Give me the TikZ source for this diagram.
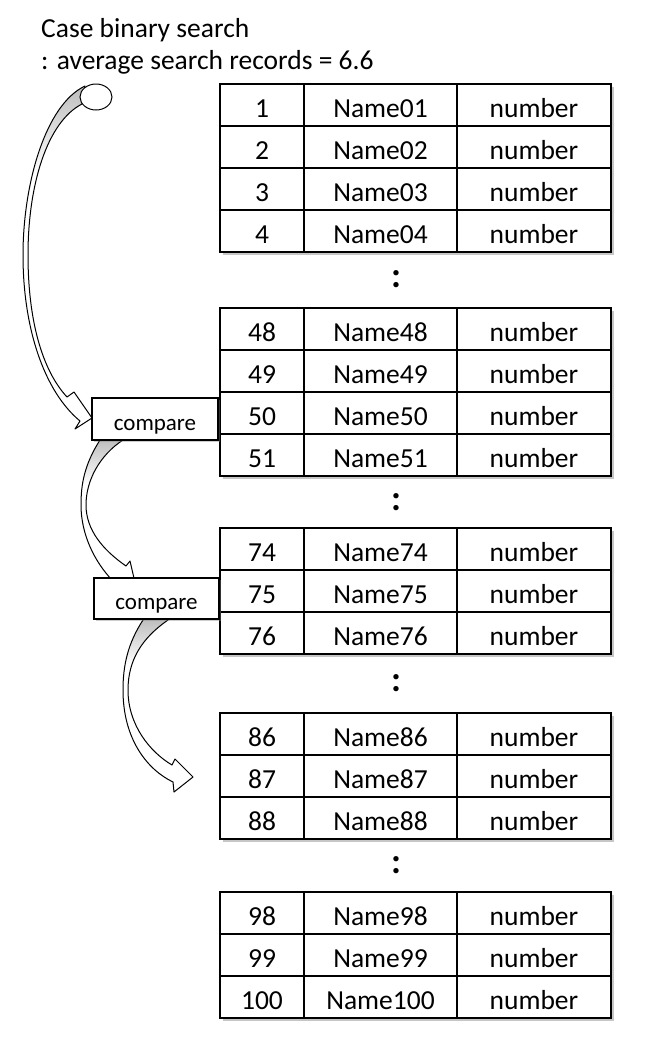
\documentclass[tikz,border=0pt]{standalone}
\usepackage{fontspec}
\setmainfont{Carlito}
\usetikzlibrary{shapes.geometric,shadows}
\newcommand\rowgroup[3]{%
  \fill[gray!45] (222.5,#1+2.5) rectangle (613.5,#2+2.5);
  \foreach \k/\nm [count=\i from 0] in {#3} {
    \node[colA] (n\k) at (262,{#1+21+42*\i}) {\k};
    \node[colB] (m\k) at (380.5,{#1+21+42*\i}) {\nm};
    \node[colC] (v\k) at (534,{#1+21+42*\i}) {number};
  }}
\def\bandone{(85,86) .. controls (45,105) and (23,185) .. (23,255) .. controls (23,330) and (45,392) .. (80,421) -- (75,429) -- (92,418) -- (74,392) -- (67,397) .. controls (42,370) and (28,320) .. (28,255) .. controls (28,185) and (47,122) .. (82,104) -- cycle}
\def\bandtwo{(100,436) -- (100,440) .. controls (84,465) and (81,485) .. (81,505) .. controls (81,535) and (95,562) .. (112,580) -- (108,584) -- (137,591) -- (130,561) -- (126,566) .. controls (103,550) and (86,530) .. (86,505) .. controls (86,480) and (100,455) .. (123,440) -- (123,436) -- cycle}
\def\bandthree{(143,616) -- (143,620) .. controls (128,643) and (123,665) .. (123,690) .. controls (123,740) and (148,770) .. (173,782) -- (174,792) -- (193,777) -- (175,759) -- (172,765) .. controls (150,752) and (128,725) .. (128,690) .. controls (128,660) and (142,638) .. (168,620) -- (168,616) -- cycle}
\begin{document}
\begin{tikzpicture}[x=1pt,y=-1pt,
  cellbox/.style={draw=black, line width=1.4pt, fill=white, inner sep=0pt, minimum height=42pt, text height=24pt, text depth=0pt, font=\fontsize{27.5}{30}\selectfont},
  colA/.style={cellbox, minimum width=84pt},
  colB/.style={cellbox, minimum width=153pt},
  colC/.style={cellbox, minimum width=154pt},
  gapdots/.style={font=\fontsize{36}{40}\selectfont\bfseries, inner sep=0pt},
  titletext/.style={anchor=base west, inner sep=0pt, font=\fontsize{27.5}{30}\selectfont},
  cmpbox/.style={draw=black, line width=1.4pt, fill=white, inner sep=0pt, text height=22pt, text depth=0pt, font=\fontsize{23}{26}\selectfont, drop shadow={shadow xshift=1.5pt, shadow yshift=-1.5pt, opacity=0.4}},
  band/.style={draw=black, line width=1pt, line join=round},
  startdot/.style={draw=black, ellipse, line width=1pt, fill=white, inner sep=0pt, minimum width=32pt, minimum height=26pt},
]
\useasboundingbox (0,0) rectangle (657,1045);

% title
\node[titletext] (t1) at (41,37) {Case binary search};
\node[titletext] (t2) at (41,69) {: average search records = 6.6};

% tables
\rowgroup{84}{252}{1/Name01,2/Name02,3/Name03,4/Name04}
\rowgroup{308}{476}{48/Name48,49/Name49,50/Name50,51/Name51}
\rowgroup{528}{654}{74/Name74,75/Name75,76/Name76}
\rowgroup{713}{839}{86/Name86,87/Name87,88/Name88}
\rowgroup{892}{1018}{98/Name98,99/Name99,100/Name100}

\node[gapdots] (g1) at (396,279) {:};
\node[gapdots] (g2) at (396,502) {:};
\node[gapdots] (g3) at (396,683.5) {:};
\node[gapdots] (g4) at (396,865.5) {:};

% curved arrows
\fill[white] \bandone;
\begin{scope}
  \clip \bandone;
  \shade[top color=gray!55, bottom color=white] (0,80) rectangle (130,175);
\end{scope}
\draw[band] \bandone;

\fill[white] \bandtwo;
\begin{scope}
  \clip \bandtwo;
  \shade[top color=gray!55, bottom color=white] (60,436) rectangle (140,485);
\end{scope}
\draw[band] \bandtwo;

\fill[white] \bandthree;
\begin{scope}
  \clip \bandthree;
  \shade[top color=gray!55, bottom color=white] (100,616) rectangle (180,665);
\end{scope}
\draw[band] \bandthree;

% start circle and compare boxes
\node[startdot] (start) at (96,97) {};
\node[cmpbox, minimum width=126pt, minimum height=42pt] (cmp1) at (155,419) {compare};
\node[cmpbox, minimum width=125pt, minimum height=41pt] (cmp2) at (156.5,598.5) {compare};
\end{tikzpicture}
\end{document}
